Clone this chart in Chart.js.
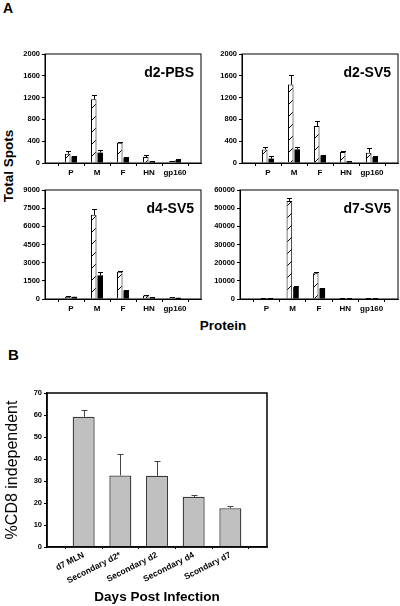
<!DOCTYPE html>
<html><head><meta charset="utf-8">
<script src="https://cdn.jsdelivr.net/npm/chart.js@4.4.1/dist/chart.umd.min.js"></script>
<style>
html,body{margin:0;padding:0;background:#fff;width:400px;height:606px;overflow:hidden;font-family:"Liberation Sans",Arial,sans-serif;}
.box{position:absolute;}
.lbl{position:absolute;font-weight:bold;color:#000;white-space:nowrap;line-height:1;}
.rot{transform:translate(-50%,-50%) rotate(-90deg);}
.ctr{transform:translate(-50%,-50%);}
</style></head><body>
<div class="lbl" style="left:3px;top:1px;font-size:14px;">A</div>
<div class="lbl" style="left:8px;top:347px;font-size:15px;">B</div>
<div class="lbl rot" style="left:9px;top:166px;font-size:13.5px;">Total Spots</div>
<div class="lbl ctr" style="left:223px;top:326px;font-size:13.5px;">Protein</div>
<div class="box" style="left:0;top:44px;width:205px;height:140px;"><canvas id="c1"></canvas></div>
<div class="box" style="left:205px;top:44px;width:195px;height:140px;"><canvas id="c2"></canvas></div>
<div class="box" style="left:0;top:180px;width:205px;height:140px;"><canvas id="c3"></canvas></div>
<div class="box" style="left:205px;top:180px;width:195px;height:140px;"><canvas id="c4"></canvas></div>
<div class="box" style="left:0;top:380px;width:400px;height:226px;"><canvas id="c5"></canvas></div>
<script>
// ---- data ----
const proteins = ['P', 'M', 'F', 'HN', 'gp160'];

const d2pbsOpen = [170, 1170, 370, 110, 30];
const d2pbsOpenErr = [50, 80, 20, 40, 10];
const d2pbsSolid = [120, 190, 95, 30, 55];
const d2pbsSolidErr = [15, 50, 10, 5, 20];

const d2sv5Open = [250, 1440, 680, 200, 190];
const d2sv5OpenErr = [50, 170, 90, 15, 80];
const d2sv5Solid = [80, 250, 140, 30, 110];
const d2sv5SolidErr = [50, 50, 15, 5, 15];

const d4sv5Open = [180, 6950, 2250, 280, 120];
const d4sv5OpenErr = [30, 450, 60, 40, 20];
const d4sv5Solid = [180, 1950, 700, 120, 100];
const d4sv5SolidErr = [20, 300, 40, 15, 15];

const d7sv5Open = [400, 54000, 14200, 300, 300];
const d7sv5OpenErr = [100, 1500, 400, 50, 50];
const d7sv5Solid = [400, 6600, 5900, 300, 300];
const d7sv5SolidErr = [100, 300, 300, 50, 50];

const yTicksD2 = [0, 400, 800, 1200, 1600, 2000];
const yTicksD4 = [0, 1500, 3000, 4500, 6000, 7500, 9000];
const yTicksD7 = [0, 10000, 20000, 30000, 40000, 50000, 60000];

const daysLabels = ['d7 MLN', 'Secondary d2*', 'Secondary d2', 'Secondary d4', 'Scondary d7'];
const cd8Independent = [59.2, 32.5, 32.4, 22.8, 17.6];
const cd8IndependentErr = [3.2, 9.6, 6.5, 0.9, 1.1];
const yTicksB = [0, 10, 20, 30, 40, 50, 60, 70];

// ---- setup ----
const FAM = '"Liberation Sans", Arial, sans-serif';
Chart.defaults.font.family = FAM;
Chart.defaults.color = '#000';

function hatchPattern() {
  const c = document.createElement('canvas');
  c.width = 12; c.height = 12;
  const x = c.getContext('2d');
  x.fillStyle = '#fff'; x.fillRect(0, 0, 12, 12);
  x.strokeStyle = '#000'; x.lineWidth = 1;
  x.beginPath();
  x.moveTo(0, 12); x.lineTo(12, 0);
  x.moveTo(-3, 3); x.lineTo(3, -3);
  x.moveTo(9, 15); x.lineTo(15, 9);
  x.stroke();
  return x.createPattern(c, 'repeat');
}
const HATCH = hatchPattern();

const errorBars = {
  id: 'errorBars',
  afterDatasetsDraw(chart, args, opts) {
    const ctx = chart.ctx, ys = chart.scales.y;
    ctx.save();
    ctx.strokeStyle = opts.color || '#000';
    ctx.lineWidth = opts.width || 1;
    chart.data.datasets.forEach((ds, i) => {
      if (!ds.errors) return;
      const meta = chart.getDatasetMeta(i);
      meta.data.forEach((el, j) => {
        const v = ds.data[j].y, e = ds.errors[j];
        if (!e) return;
        const yTop = Math.round(ys.getPixelForValue(v + e)) + 0.5;
        const x = Math.round(el.x) + 0.5;
        const cap = opts.cap || 2.5;
        ctx.beginPath();
        ctx.moveTo(x, el.y); ctx.lineTo(x, yTop);
        ctx.moveTo(x - cap, yTop); ctx.lineTo(x + cap, yTop);
        ctx.stroke();
      });
    });
    ctx.restore();
  }
};

const frame = {
  id: 'frame',
  afterDatasetsDraw(chart, args, opts) {
    const a = chart.chartArea, ctx = chart.ctx;
    ctx.save();
    ctx.strokeStyle = opts.color || '#000';
    ctx.lineWidth = opts.width || 1;
    ctx.strokeRect(a.left, a.top, a.right - a.left, a.bottom - a.top);
    ctx.restore();
  }
};

const innerTitle = {
  id: 'innerTitle',
  afterDraw(chart, args, opts) {
    if (!opts.text) return;
    const a = chart.chartArea, ctx = chart.ctx;
    ctx.save();
    ctx.font = 'bold 14px ' + FAM;
    ctx.fillStyle = '#000';
    ctx.textAlign = 'right';
    ctx.textBaseline = 'middle';
    ctx.fillText(opts.text, a.right - 7, a.top + 19);
    ctx.restore();
  }
};

const tickFont = {size: 7.5, weight: 'bold', family: FAM};
const plain = v => String(v);

function panelA(id, open, openErr, solid, solidErr, yTicks, title, yW, rightPad) {
  return new Chart(document.getElementById(id), {
    type: 'bar',
    data: {
      datasets: [
        {data: open.map((v, i) => ({x: i + 1, y: v})), errors: openErr,
         backgroundColor: HATCH, borderColor: '#000', borderWidth: 1},
        {data: solid.map((v, i) => ({x: i + 1, y: v})), errors: solidErr,
         backgroundColor: '#000', borderColor: '#000', borderWidth: 0}
      ]
    },
    options: {
      responsive: true, maintainAspectRatio: false, animation: false,
      layout: {padding: {top: 10, right: rightPad, left: 0, bottom: 0}},
      datasets: {bar: {categoryPercentage: 0.5, barPercentage: 0.85}},
      plugins: {
        legend: {display: false}, tooltip: {enabled: false},
        errorBars: {cap: 2.5, width: 1}, frame: {width: 1}, innerTitle: {text: title}
      },
      scales: {
        x: {
          type: 'linear', min: 0, max: 6, offset: false,
          afterBuildTicks: s => { s.ticks = proteins.map((p, i) => ({value: i + 1})); },
          ticks: {callback: v => proteins[v - 1], font: {size: 8, weight: 'bold', family: FAM},
                  padding: 2, maxRotation: 0, autoSkip: false},
          grid: {drawOnChartArea: false, drawTicks: true, tickLength: 3, color: '#000'},
          border: {color: '#000'},
          afterFit: s => { s.height = 21; }
        },
        y: {
          min: yTicks[0], max: yTicks[yTicks.length - 1],
          afterBuildTicks: s => { s.ticks = yTicks.map(v => ({value: v})); },
          ticks: {font: tickFont, padding: 2, callback: plain, autoSkip: false},
          grid: {drawOnChartArea: false, drawTicks: true, tickLength: 3, color: '#000'},
          border: {color: '#000'},
          afterFit: s => { s.width = yW; }
        }
      }
    },
    plugins: [errorBars, frame, innerTitle]
  });
}

panelA('c1', d2pbsOpen, d2pbsOpenErr, d2pbsSolid, d2pbsSolidErr, yTicksD2, 'd2-PBS', 45, 4);
panelA('c2', d2sv5Open, d2sv5OpenErr, d2sv5Solid, d2sv5SolidErr, yTicksD2, 'd2-SV5', 37, 2);
panelA('c3', d4sv5Open, d4sv5OpenErr, d4sv5Solid, d4sv5SolidErr, yTicksD4, 'd4-SV5', 45, 4);
panelA('c4', d7sv5Open, d7sv5OpenErr, d7sv5Solid, d7sv5SolidErr, yTicksD7, 'd7-SV5', 35, 2);

new Chart(document.getElementById('c5'), {
  type: 'bar',
  data: {
    datasets: [{
      data: cd8Independent.map((v, i) => ({x: i + 1, y: v})), errors: cd8IndependentErr,
      backgroundColor: '#c0c0c0', borderColor: '#3a3a3a', borderWidth: 1.3
    }]
  },
  options: {
    responsive: true, maintainAspectRatio: false, animation: false,
    layout: {padding: {top: 13, right: 133, left: 0, bottom: 0}},
    datasets: {bar: {categoryPercentage: 1, barPercentage: 0.6}},
    plugins: {
      legend: {display: false}, tooltip: {enabled: false},
      errorBars: {cap: 3, width: 1, color: '#444'}, frame: {width: 1.5}
    },
    scales: {
      x: {
        type: 'linear', min: 0, max: 6, offset: false,
        afterBuildTicks: s => { s.ticks = daysLabels.map((p, i) => ({value: i + 1})); },
        ticks: {callback: v => daysLabels[v - 1], font: {size: 8.5, weight: 'bold', family: FAM},
                padding: 1, minRotation: 27, maxRotation: 27, autoSkip: false},
        grid: {drawOnChartArea: false, drawTicks: true, tickLength: 2, color: '#000'},
        border: {color: '#000', width: 1.5},
        title: {display: true, text: 'Days Post Infection', font: {size: 13.5, weight: 'bold', family: FAM},
                padding: {top: 0, bottom: 1}},
        afterFit: s => { s.height = 59; }
      },
      y: {
        min: yTicksB[0], max: yTicksB[yTicksB.length - 1],
        afterBuildTicks: s => { s.ticks = yTicksB.map(v => ({value: v})); },
        ticks: {font: tickFont, padding: 2, callback: plain, autoSkip: false},
        grid: {drawOnChartArea: false, drawTicks: true, tickLength: 3, color: '#000'},
        border: {color: '#000', width: 1.5},
        title: {display: true, text: '%CD8 independent', font: {size: 16, weight: 'normal', family: FAM},
                padding: {top: 3, bottom: 0}},
        afterFit: s => { s.width = 47; }
      }
    }
  },
  plugins: [errorBars, frame]
});
</script>
</body></html>
